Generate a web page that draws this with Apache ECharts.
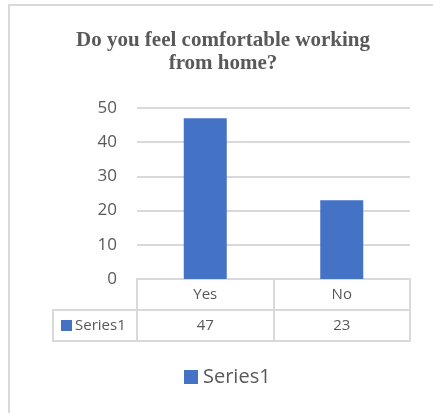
<!DOCTYPE html>
<html>
<head>
<meta charset="utf-8">
<script src="https://cdn.jsdelivr.net/npm/echarts@6/dist/echarts.min.js"></script>
<style>
  html, body { margin: 0; padding: 0; background: #fff; }
  #chart { width: 433px; height: 413px; }
</style>
</head>
<body>
<div id="chart"></div>
<script>
// data
var categories = ['Yes', 'No'];
var values = [47, 23];
var seriesName = 'Series1';
var yTicks = [0, 10, 20, 30, 40, 50];

var grey = '#595959';
var lineCol = '#d9d9d9';
var barCol = '#4472c4';
var font = 'Open Sans';

var chart = echarts.init(document.getElementById('chart'));

chart.setOption({
  animation: false,
  title: {
    text: 'Do you feel comfortable working\nfrom home?',
    left: 223, top: 29, textAlign: 'center', padding: 0,
    textStyle: {
      fontFamily: 'Liberation Serif', fontWeight: 'bold', fontSize: 21,
      color: grey, lineHeight: 23
    }
  },
  legend: {
    data: [seriesName],
    top: 367, left: 184, padding: 0,
    icon: 'rect', itemWidth: 14, itemHeight: 14,
    textStyle: { fontFamily: font, fontSize: 20, color: grey }
  },
  grid: { left: 137, right: 23, top: 108, bottom: 134 },
  xAxis: [
    {
      type: 'category', data: categories, position: 'bottom',
      axisLine: { show: true, lineStyle: { color: lineCol, width: 2 } },
      axisTick: { show: true, length: 62, lineStyle: { color: lineCol, width: 2 } },
      axisLabel: { fontFamily: font, fontSize: 15, color: grey, margin: 8 }
    },
    {
      type: 'category', data: categories, position: 'bottom', offset: 31,
      axisLine: { show: true, lineStyle: { color: lineCol, width: 2 } },
      axisTick: { show: false },
      axisLabel: {
        fontFamily: font, fontSize: 15, color: grey, margin: 8,
        formatter: function (v, i) { return String(values[i]); }
      }
    },
    {
      type: 'category', data: categories, position: 'bottom', offset: 62,
      axisLine: { show: true, lineStyle: { color: lineCol, width: 2 } },
      axisTick: { show: false },
      axisLabel: { show: false }
    }
  ],
  yAxis: {
    type: 'value', min: yTicks[0], max: yTicks[yTicks.length - 1], interval: 10,
    axisLine: { show: false }, axisTick: { show: false },
    axisLabel: { fontFamily: font, fontSize: 17, color: grey, margin: 20 },
    splitLine: { lineStyle: { color: lineCol, width: 2 } }
  },
  series: [{
    name: seriesName, type: 'bar', data: values, barWidth: 43,
    itemStyle: { color: barCol }
  }]
});

// row header cell of the data table + outer border
var x0 = chart.convertToPixel({ xAxisIndex: 0 }, 0) - (chart.convertToPixel({ xAxisIndex: 0 }, 1) - chart.convertToPixel({ xAxisIndex: 0 }, 0)) / 2;
var yBase = chart.convertToPixel({ yAxisIndex: 0 }, 0);
var r1 = yBase + 31, r2 = yBase + 62;
var lx = 53;
function seg(x1, y1, x2, y2) {
  return { type: 'line', shape: { x1: x1, y1: y1, x2: x2, y2: y2 }, style: { stroke: lineCol, lineWidth: 2 } };
}
chart.setOption({
  graphic: [
    seg(lx, r1, x0, r1),
    seg(lx, r2, x0, r2),
    seg(lx, r1 - 1, lx, r2 + 1),
    { type: 'rect', shape: { x: 61, y: (r1 + r2) / 2 - 5.5, width: 11, height: 11 }, style: { fill: barCol } },
    { type: 'text', x: 75, y: (r1 + r2) / 2, style: { text: seriesName, fontFamily: font, fontSize: 15, fill: grey, verticalAlign: 'middle' } },
    seg(8, 5, 433, 5),
    seg(9, 4, 9, 413)
  ]
});
</script>
</body>
</html>
